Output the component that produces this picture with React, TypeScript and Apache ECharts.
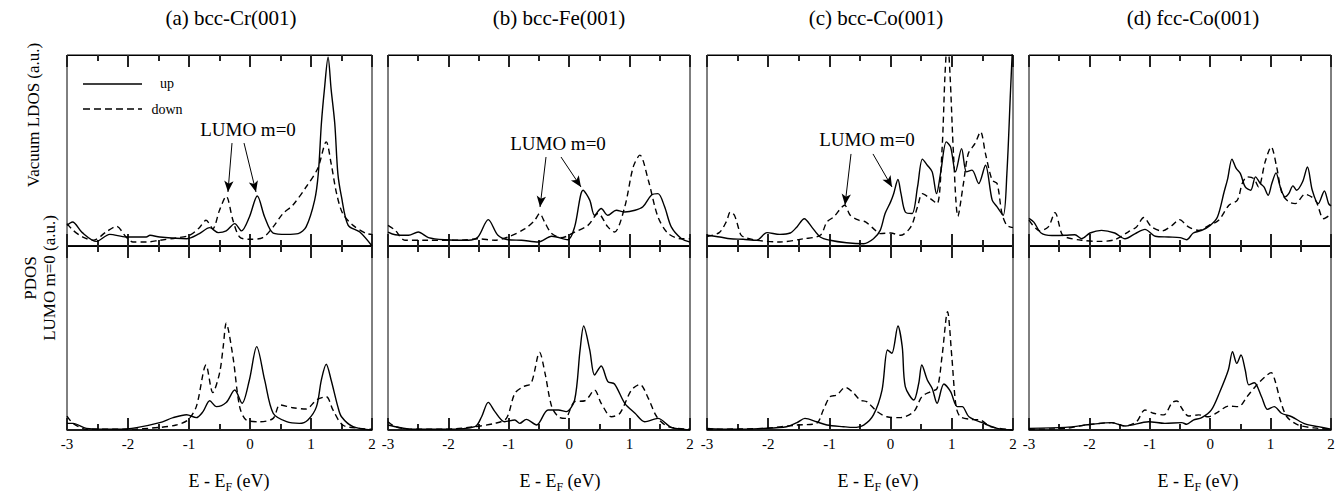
import React, { useEffect, useRef } from "react";
import * as echarts from "echarts";

// ---------- data (E - E_F in eV, intensity in arbitrary units 0..100) ----------
const xTicks = [-3, -2, -1, 0, 1, 2];
const panelTitles = ["(a) bcc-Cr(001)", "(b) bcc-Fe(001)", "(c) bcc-Co(001)", "(d) fcc-Co(001)"];
const rowLabelTop = "Vacuum LDOS (a.u.)";
const rowLabelBottom1 = "PDOS";
const rowLabelBottom2 = "LUMO m=0 (a.u.)";
const legendNames = ["up", "down"];
const annotationText = "LUMO m=0";
const xLabelParts = ["E - E", "F", " (eV)"];

const crLdosUp = [[-3,10.8],[-2.91,12.6],[-2.75,7],[-2.52,2.4],[-2.30,6.1],[-2.03,4.7],[-1.70,4.7],[-1.64,5.6],[-1.48,4.7],[-1.04,3.8],[-0.83,6.5],[-0.66,9.6],[-0.52,7.0],[-0.39,7.9],[-0.25,11.7],[-0.14,7.9],[-0.01,15.2],[0.12,26.2],[0.24,15.2],[0.38,6.8],[0.60,6.1],[0.79,6.5],[0.92,10.0],[1.06,24],[1.12,38],[1.17,64],[1.22,82],[1.28,98.8],[1.33,82],[1.39,64],[1.44,38],[1.50,25.7],[1.61,10.8],[1.80,7.3],[2.0,0]];
const crLdosDown = [[-3,11.7],[-2.90,8.2],[-2.74,4.7],[-2.57,3.0],[-2.36,7.3],[-2.19,10.3],[-2.03,4.7],[-1.92,2.1],[-1.70,2.1],[-1.48,3.0],[-1.21,4.2],[-0.99,5.6],[-0.83,9.6],[-0.72,13.5],[-0.61,9.1],[-0.50,18.7],[-0.39,26.0],[-0.28,13.5],[-0.17,4.7],[-0.01,3.5],[0.21,4.4],[0.38,10.0],[0.54,17.0],[0.70,21.3],[0.92,30.9],[1.11,40.6],[1.25,54.5],[1.33,43.2],[1.42,27.4],[1.52,17.0],[1.69,10.8],[1.91,6.5],[2.0,6.1]];
const crPdosUp = [[-3,3.6],[-2.9,3.6],[-2.68,0.9],[-2.14,0.4],[-1.86,1.3],[-1.48,4.0],[-1.26,6.7],[-1.04,8.3],[-0.88,6.7],[-0.77,10.0],[-0.66,15.9],[-0.55,12.7],[-0.39,14.9],[-0.25,21.7],[-0.13,14.5],[-0.01,27.2],[0.11,45.3],[0.24,27.2],[0.38,9.1],[0.60,4.5],[0.81,3.6],[0.95,5.5],[1.09,12.7],[1.17,27.2],[1.25,35.7],[1.33,27.2],[1.44,12.7],[1.50,7.2],[1.69,1.8],[2,0]];
const crPdosDown = [[-3,7.6],[-2.9,3.6],[-2.68,0.4],[-2.03,0.4],[-1.48,1.4],[-1.21,2.7],[-1.02,5.4],[-0.88,12.7],[-0.72,35.3],[-0.61,20.3],[-0.50,30.8],[-0.44,45],[-0.39,58.0],[-0.28,39.9],[-0.17,12.7],[-0.06,5.4],[0.16,4.5],[0.38,6.3],[0.49,13.6],[0.70,12.1],[0.92,11.4],[1.09,16.3],[1.25,18.1],[1.36,10.9],[1.52,2.7],[1.80,0.9],[2,0.4]];

const feLdosUp = [[-3,7.3],[-2.88,5.9],[-2.66,5.6],[-2.50,7.3],[-2.33,4.4],[-2.06,3.3],[-1.67,3.0],[-1.51,4.7],[-1.34,13.8],[-1.18,5.6],[-1.01,3.3],[-0.79,3.0],[-0.51,2.1],[-0.29,5.1],[-0.02,3.3],[0.09,10.0],[0.23,29.2],[0.34,24.0],[0.42,16.1],[0.53,19.6],[0.64,16.1],[0.78,18.7],[0.92,17.8],[1.09,18.7],[1.22,20.5],[1.36,26.6],[1.47,27.4],[1.58,20.5],[1.69,10.0],[1.86,3.8],[2.0,2.1]];
const feLdosDown = [[-3,10.8],[-2.88,8.2],[-2.72,3.0],[-2.33,3.0],[-1.78,3.0],[-1.51,3.8],[-1.23,3.0],[-1.01,4.7],[-0.73,9.1],[-0.57,13.5],[-0.49,17.0],[-0.40,12.1],[-0.29,6.5],[-0.12,4.4],[0.09,7.3],[0.31,10.8],[0.48,17.0],[0.64,10.0],[0.75,7.3],[0.92,20.5],[1.06,41.4],[1.17,47.6],[1.31,34.4],[1.47,15.2],[1.64,6.5],[1.86,3.8],[2.0,3.8]];
const fePdosUp = [[-3,2.7],[-2.88,1.8],[-2.61,0.4],[-2.06,0.4],[-1.56,1.8],[-1.45,7.2],[-1.34,15.0],[-1.23,10.0],[-1.07,4.5],[-0.90,5.4],[-0.82,3.6],[-0.71,5.8],[-0.54,2.7],[-0.35,10.9],[-0.18,10.9],[-0.05,10.0],[0.09,16.3],[0.18,43.5],[0.24,56.5],[0.34,43.5],[0.42,29.9],[0.53,34.8],[0.64,26.3],[0.75,25.0],[0.92,14.5],[1.09,9.1],[1.25,4.5],[1.47,6.3],[1.69,1.4],[2.0,0]];
const fePdosDown = [[-3,4.5],[-2.88,1.8],[-2.61,0.4],[-2.06,0.4],[-1.56,1.8],[-1.23,3.6],[-1.04,6.3],[-0.90,19.9],[-0.76,23.6],[-0.63,25.4],[-0.49,42.2],[-0.40,30.8],[-0.29,12.7],[-0.18,7.2],[-0.07,6.3],[0.09,15.4],[0.26,15.9],[0.42,21.7],[0.53,14.5],[0.70,7.2],[0.84,9.1],[1.03,21.7],[1.17,24.8],[1.31,17.2],[1.45,7.2],[1.64,1.8],[2.0,0.4]];

const bccCoLdosUp = [[-3,5.6],[-2.79,4.7],[-2.62,3.8],[-2.41,3.5],[-2.19,3.0],[-2.02,7.0],[-1.81,6.1],[-1.64,6.8],[-1.53,10.0],[-1.41,14.3],[-1.29,10.0],[-1.15,4.7],[-0.99,3.0],[-0.72,1.7],[-0.44,1.2],[-0.28,3.8],[-0.17,8.2],[-0.09,17.0],[0.0,23.1],[0.05,27.4],[0.12,34.8],[0.17,27.4],[0.24,17.8],[0.35,17.0],[0.44,30.9],[0.52,45.5],[0.60,42.3],[0.68,38.8],[0.75,27.4],[0.82,38.8],[0.91,54.5],[0.98,51.9],[1.06,38.8],[1.16,51.0],[1.24,38.8],[1.33,39.7],[1.44,32.7],[1.55,42.3],[1.66,24.0],[1.74,20.5],[1.84,16.1],[1.90,37.9],[1.96,81.6],[2.0,110]];
const bccCoLdosDown = [[-3,5.0],[-2.80,7.0],[-2.68,13.0],[-2.62,17.8],[-2.55,16.0],[-2.45,6.0],[-2.40,4.7],[-2.19,3.0],[-1.81,2.1],[-1.42,3.8],[-1.15,5.6],[-1.04,12.6],[-0.93,15.2],[-0.75,21.3],[-0.66,16.1],[-0.52,13.5],[-0.41,12.6],[-0.28,9.1],[-0.17,6.5],[0.0,6.8],[0.16,5.6],[0.33,10.0],[0.44,20.5],[0.52,27.4],[0.65,24.8],[0.76,22.2],[0.84,50.2],[0.89,90.4],[0.93,108],[0.97,90.4],[1.03,46.7],[1.10,15.6],[1.19,32.7],[1.27,48.4],[1.38,53.7],[1.47,59.8],[1.55,48.4],[1.66,34.4],[1.74,32.7],[1.82,17.0],[1.90,10.8],[2.0,9.6]];
const bccCoPdosUp = [[-3,0.9],[-2.62,0.4],[-2.08,0.9],[-1.70,1.8],[-1.53,4.0],[-1.40,6.3],[-1.21,4.5],[-1.04,2.7],[-0.77,1.8],[-0.61,1.4],[-0.44,2.7],[-0.28,8.2],[-0.14,21.7],[-0.05,43.5],[0.02,41.7],[0.12,56.5],[0.19,45.3],[0.24,23.6],[0.38,16.3],[0.46,25.4],[0.51,35.3],[0.60,27.2],[0.68,22.6],[0.76,14.5],[0.87,25.0],[0.98,20.8],[1.09,12.7],[1.17,12.7],[1.28,7.2],[1.52,3.6],[1.74,0.9],[2,0]];
const bccCoPdosDown = [[-3,0.4],[-2.08,0.9],[-1.53,2.7],[-1.21,3.6],[-1.10,10.9],[-0.99,18.1],[-0.88,19.0],[-0.74,23.2],[-0.61,20.3],[-0.50,16.3],[-0.39,15.4],[-0.22,10.0],[-0.06,7.2],[0.16,6.7],[0.38,10.0],[0.51,18.1],[0.65,20.8],[0.76,22.6],[0.84,39.9],[0.93,64.3],[1.00,39.9],[1.07,12.7],[1.14,7.2],[1.30,5.8],[1.47,5.4],[1.63,1.8],[2,0]];

const fccCoLdosUp = [[-3,14.5],[-2.92,12.5],[-2.80,6.8],[-2.62,5.5],[-2.40,5.6],[-2.24,5.9],[-2.13,3.8],[-1.99,6.8],[-1.80,8.2],[-1.58,6.8],[-1.41,3.8],[-1.24,6.5],[-1.08,8.7],[-0.91,5.1],[-0.69,4.7],[-0.50,4.4],[-0.39,3.3],[-0.28,6.8],[-0.14,8.2],[0.0,10.8],[0.12,15.2],[0.23,28.3],[0.29,35.3],[0.36,45.5],[0.43,40.6],[0.50,37.9],[0.58,30.9],[0.67,29.2],[0.75,36.2],[0.83,32.7],[0.89,30.9],[0.96,26.6],[1.02,32.7],[1.09,38.3],[1.16,30.9],[1.24,25.7],[1.30,27.4],[1.37,31.5],[1.43,29.2],[1.53,33.6],[1.61,41.4],[1.69,29.2],[1.79,22.2],[1.89,28.8],[1.96,22.2],[2.0,21.0]];
const fccCoLdosDown = [[-3,13.5],[-2.82,7.9],[-2.68,10.0],[-2.57,17.5],[-2.46,6.5],[-2.40,4.7],[-2.13,3.0],[-1.85,2.4],[-1.58,3.3],[-1.36,7.3],[-1.22,10.0],[-1.10,14.9],[-0.97,10.0],[-0.80,7.9],[-0.63,10.8],[-0.51,13.8],[-0.36,10.0],[-0.19,8.2],[-0.02,10.8],[0.14,13.5],[0.31,21.3],[0.45,24.0],[0.53,32.7],[0.61,36.2],[0.72,35.3],[0.80,30.9],[0.91,44.1],[1.01,51.9],[1.10,41.4],[1.19,27.4],[1.30,23.1],[1.41,22.2],[1.57,27.1],[1.74,24.0],[1.88,14.3],[2.0,16.6]];
const fccCoPdosUp = [[-3,0.9],[-2.40,1.4],[-1.96,3.1],[-1.63,4.0],[-1.41,2.2],[-1.02,4.5],[-0.75,3.6],[-0.47,4.0],[-0.39,3.1],[-0.28,5.4],[-0.14,6.7],[0.02,10.9],[0.16,20.8],[0.30,32.6],[0.37,42.6],[0.44,36.2],[0.51,40.8],[0.58,32.6],[0.64,24.5],[0.73,25.7],[0.85,18.1],[0.95,11.2],[1.06,12.7],[1.18,9.1],[1.35,7.2],[1.57,3.3],[1.79,1.8],[2.0,0.4]];
const fccCoPdosDown = [[-3,0.4],[-2.40,0.9],[-2.07,2.7],[-1.63,4.0],[-1.41,2.2],[-1.22,4.5],[-1.08,10.9],[-0.94,9.1],[-0.77,8.2],[-0.63,14.9],[-0.55,15.8],[-0.47,11.8],[-0.36,7.6],[-0.19,8.2],[-0.03,7.2],[0.14,10.0],[0.30,13.0],[0.47,12.7],[0.61,18.1],[0.77,24.5],[0.91,29.0],[1.01,31.2],[1.07,27.2],[1.16,16.3],[1.27,7.2],[1.46,2.7],[1.79,0.9],[2.0,0.4]];

// LUMO arrows in data coordinates: [from, to]
const lumoArrowsCr = [[[-0.295, 53.9], [-0.361, 28.3]], [[-0.098, 53.9], [0.098, 28.3]]];
const lumoArrowsFe = [[[-0.384, 46.6], [-0.483, 20.4]], [[-0.136, 46.6], [0.195, 30.9]]];
const lumoArrowsCo = [[[-0.647, 48.2], [-0.745, 21.5]], [[-0.288, 48.2], [0.023, 30.9]]];

// ---------- layout ----------
const FONT = '"Liberation Serif", "Times New Roman", serif';
const GRID_LEFT = [67, 388, 707, 1029];
const GRID_W = [305, 302, 306, 302];
const TOP_Y = 55, TOP_H = 191, BOT_Y = 246, BOT_H = 184;
const TITLE_X = [231, 559, 876, 1193];
const XLABEL_X = [229, 560, 878, 1198];
const LUMO_POS = [[248, 129], [558, 143], [867, 139]];

const ldosSets = [[crLdosUp, crLdosDown], [feLdosUp, feLdosDown], [bccCoLdosUp, bccCoLdosDown], [fccCoLdosUp, fccCoLdosDown]];
const pdosSets = [[crPdosUp, crPdosDown], [fePdosUp, fePdosDown], [bccCoPdosUp, bccCoPdosDown], [fccCoPdosUp, fccCoPdosDown]];
const arrowSets = [lumoArrowsCr, lumoArrowsFe, lumoArrowsCo, []];

function measure(text: string, size: number) {
  const ctx = document.createElement("canvas").getContext("2d");
  if (!ctx) return text.length * size * 0.5;
  ctx.font = `${size}px "Liberation Serif"`;
  return ctx.measureText(text).width;
}

function buildOption() {
  const grid: any[] = [];
  const xAxis: any[] = [];
  const yAxis: any[] = [];
  const series: any[] = [];

  const mkX = (gridIndex: number, position: string, showLabel: boolean) => ({
    type: "value",
    gridIndex,
    position,
    min: xTicks[0],
    max: xTicks[xTicks.length - 1],
    interval: 1,
    axisLine: { show: true, onZero: false, lineStyle: { color: "#000", width: position === "bottom" ? 1.6 : 1 } },
    axisTick: { show: true, inside: true, length: 12, lineStyle: { color: "#222", width: 2 } },
    minorTick: { show: true, splitNumber: 2, length: 6, lineStyle: { color: "#222", width: 2 } },
    splitLine: { show: false },
    minorSplitLine: { show: false },
    axisLabel: { show: showLabel, color: "#000", fontSize: 15, fontFamily: FONT, margin: 6 },
  });

  for (let p = 0; p < 4; p++) {
    for (let r = 0; r < 2; r++) {
      const g = grid.length;
      const h = r === 0 ? TOP_H : BOT_H;
      grid.push({
        left: GRID_LEFT[p],
        width: GRID_W[p],
        top: r === 0 ? TOP_Y : BOT_Y,
        height: h,
        show: true,
        borderColor: "#000",
        borderWidth: 1,
        backgroundColor: "transparent",
      });
      const xb = xAxis.length;
      xAxis.push(mkX(g, "bottom", r === 1));
      xAxis.push(mkX(g, "top", false));
      yAxis.push({ type: "value", gridIndex: g, min: 0, max: 100, show: false });

      const sets = r === 0 ? ldosSets[p] : pdosSets[p];
      sets.forEach((data, k) => {
        const s: any = {
          type: "line",
          name: legendNames[k],
          xAxisIndex: xb,
          yAxisIndex: g,
          data,
          smooth: 0.3,
          symbol: "none",
          showSymbol: false,
          clip: true,
          silent: true,
          lineStyle: { color: "#000", width: 1.4, type: k === 0 ? "solid" : [6, 4] },
        };
        if (k === 0 && r === 0 && arrowSets[p].length) {
          s.markLine = {
            silent: true,
            symbol: ["none", "arrow"],
            symbolSize: [7, 11],
            label: { show: false },
            lineStyle: { color: "#000", width: 1, type: "solid" },
            emphasis: { disabled: true },
            data: arrowSets[p].map(([a, b]) => [{ coord: a }, { coord: b }]),
          };
        }
        series.push(s);
      });
    }
  }

  const graphic: any[] = [];
  const mainSize = 18, subSize = 12;
  const w1 = measure(xLabelParts[0], mainSize);
  const w2 = measure(xLabelParts[1], subSize);
  const w3 = measure(xLabelParts[2], mainSize);
  panelTitles.forEach((t, p) => {
    graphic.push({
      type: "text", x: TITLE_X[p], y: 18,
      style: { text: t, fontSize: 21, fontFamily: FONT, fill: "#000", align: "center", verticalAlign: "middle" },
    });
    const x0 = XLABEL_X[p] - (w1 + w2 + w3) / 2;
    const yl = 481;
    graphic.push({ type: "text", x: x0, y: yl, style: { text: xLabelParts[0], fontSize: mainSize, fontFamily: FONT, fill: "#000", align: "left", verticalAlign: "middle" } });
    graphic.push({ type: "text", x: x0 + w1, y: yl + 6, style: { text: xLabelParts[1], fontSize: subSize, fontFamily: FONT, fill: "#000", align: "left", verticalAlign: "middle" } });
    graphic.push({ type: "text", x: x0 + w1 + w2, y: yl, style: { text: xLabelParts[2], fontSize: mainSize, fontFamily: FONT, fill: "#000", align: "left", verticalAlign: "middle" } });
  });
  LUMO_POS.forEach(([x, y]) => {
    graphic.push({
      type: "text", x, y,
      style: { text: annotationText, fontSize: 19, fontFamily: FONT, fill: "#000", align: "center", verticalAlign: "middle" },
    });
  });
  // row labels
  graphic.push({
    type: "text", x: 33, y: 115, rotation: Math.PI / 2,
    style: { text: rowLabelTop, fontSize: 17, fontFamily: FONT, fill: "#000", align: "center", verticalAlign: "middle" },
  });
  graphic.push({
    type: "text", x: 30, y: 278, rotation: Math.PI / 2,
    style: { text: rowLabelBottom1, fontSize: 17, fontFamily: FONT, fill: "#000", align: "center", verticalAlign: "middle" },
  });
  graphic.push({
    type: "text", x: 49, y: 278, rotation: Math.PI / 2,
    style: { text: rowLabelBottom2, fontSize: 17, fontFamily: FONT, fill: "#000", align: "center", verticalAlign: "middle" },
  });
  // legend
  graphic.push({ type: "line", shape: { x1: 83, y1: 84, x2: 142, y2: 84 }, style: { stroke: "#000", lineWidth: 1.4 } });
  graphic.push({ type: "line", shape: { x1: 83, y1: 109, x2: 142, y2: 109 }, style: { stroke: "#000", lineWidth: 1.4, lineDash: [7, 4] } });
  graphic.push({
    type: "text", x: 167, y: 83,
    style: { text: legendNames[0], fontSize: 14, fontFamily: FONT, fill: "#000", align: "center", verticalAlign: "middle" },
  });
  graphic.push({
    type: "text", x: 167, y: 109,
    style: { text: legendNames[1], fontSize: 14, fontFamily: FONT, fill: "#000", align: "center", verticalAlign: "middle" },
  });

  return {
    animation: false,
    backgroundColor: "#fff",
    textStyle: { fontFamily: FONT, color: "#000" },
    grid, xAxis, yAxis, series, graphic,
  };
}

export default function App() {
  const ref = useRef<HTMLDivElement>(null);
  useEffect(() => {
    if (!ref.current) return;
    const chart = echarts.init(ref.current, undefined, { renderer: "svg" });
    chart.setOption(buildOption() as any);
    return () => chart.dispose();
  }, []);
  return <div ref={ref} style={{ position: "absolute", left: 0, top: 0, width: 1343, height: 493 }} />;
}
